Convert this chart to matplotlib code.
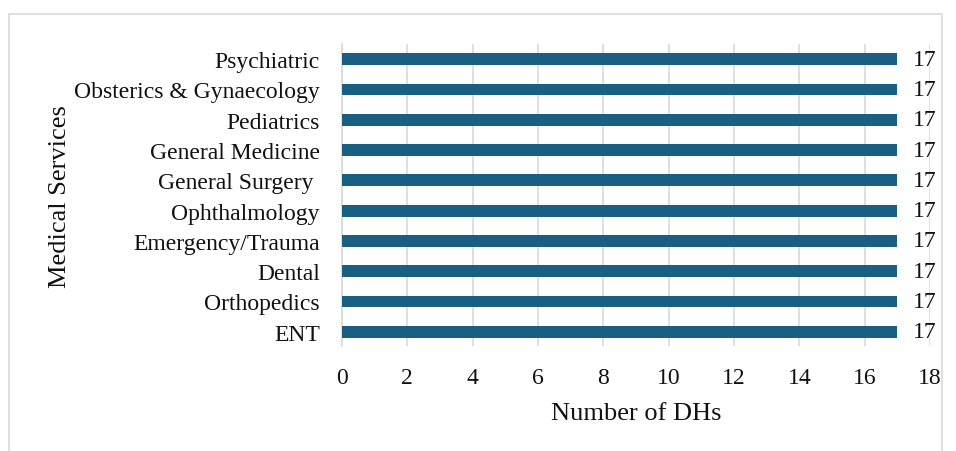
import matplotlib.pyplot as plt
from matplotlib.patches import Rectangle

services = ['ENT', 'Orthopedics', 'Dental', 'Emergency/Trauma', 'Ophthalmology',
            'General Surgery ', 'General Medicine', 'Pediatrics',
            'Obsterics & Gynaecology', 'Psychiatric']
counts = [17, 17, 17, 17, 17, 17, 17, 17, 17, 17]
xticks = [0, 2, 4, 6, 8, 10, 12, 14, 16, 18]

plt.rcParams['font.family'] = ['Liberation Serif', 'DejaVu Serif']

fig = plt.figure(figsize=(9.56, 4.52), dpi=100)
ax = fig.add_axes([0.3577, 0.2323, 0.6151, 0.6681])

pos = list(range(len(services)))
ax.barh(pos, counts, height=0.39, color='#185F82', zorder=3)
for p, v in zip(pos, counts):
    ax.annotate(str(v), (v, p), xytext=(11.5, 0), textcoords='offset points',
                va='center', ha='left', fontsize=17, color='#111111')

ax.set_xlim(0, 18)
ax.set_ylim(-0.47, 9.5)
ax.set_xticks(xticks)
ax.set_yticks(pos)
ax.set_yticklabels(services)
ax.tick_params(axis='both', length=0, labelsize=17, colors='#111111')
ax.tick_params(axis='x', pad=15)
ax.tick_params(axis='y', pad=16)
ax.grid(axis='x', color='#D9D9D9', linewidth=1.2, zorder=0)
for s in ['top', 'right', 'bottom']:
    ax.spines[s].set_visible(False)
ax.spines['left'].set_color('#D9D9D9')
ax.spines['left'].set_linewidth(1.2)

ax.set_xlabel('Number of DHs', fontsize=19, labelpad=10, color='#111111')
fig.text(0.063, 0.565, 'Medical Services', rotation=90, fontsize=19,
         ha='center', va='center', color='#111111')

fig.patches.append(Rectangle((9 / 956, -0.05), (942 - 9) / 956, 1 - 15 / 452 + 0.05,
                             transform=fig.transFigure, fill=False,
                             edgecolor='#D9D9D9', linewidth=1.2))

fig.savefig('out.png', dpi=100)
